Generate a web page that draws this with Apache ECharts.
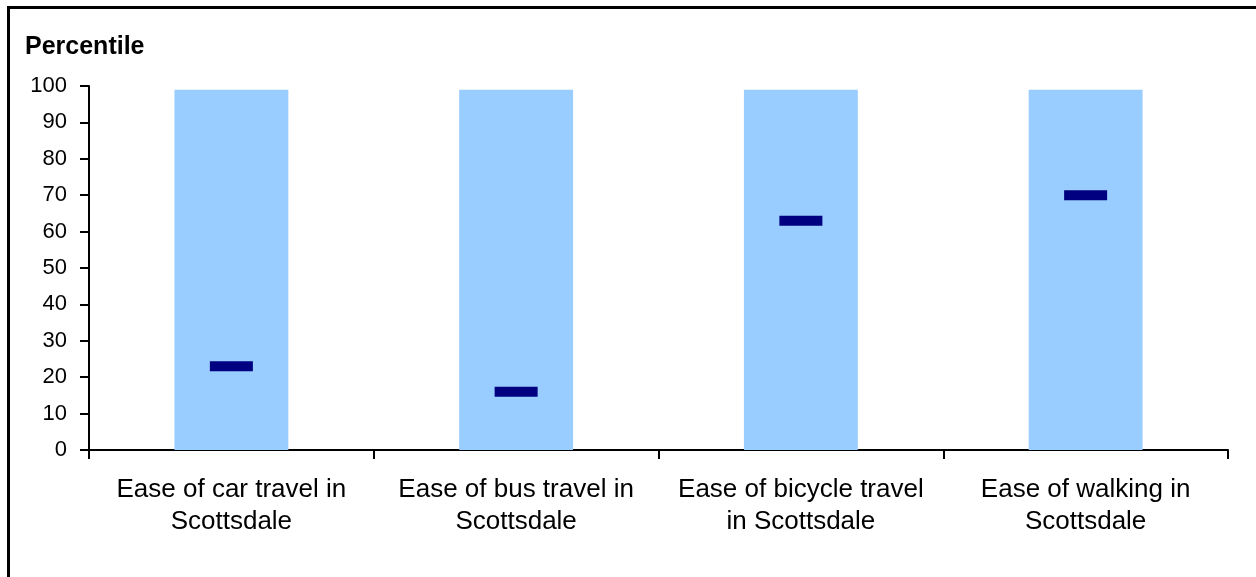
<!DOCTYPE html>
<html>
<head>
<meta charset="utf-8">
<script src="https://cdn.jsdelivr.net/npm/echarts@6/dist/echarts.min.js"></script>
<style>
  html, body { margin: 0; padding: 0; background: #fff; }
  #chart { width: 1256px; height: 577px; }
</style>
</head>
<body>
<div id="chart"></div>
<script>
// Survey items, percentile range (full band) and Scottsdale's percentile score
const categories = [
  'Ease of car travel in\nScottsdale',
  'Ease of bus travel in\nScottsdale',
  'Ease of bicycle travel\nin Scottsdale',
  'Ease of walking in\nScottsdale'
];
const rangeTop = [99, 99, 99, 99];
const percentile = [23, 16, 63, 70];
const yTicks = [0, 10, 20, 30, 40, 50, 60, 70, 80, 90, 100];

const chart = echarts.init(document.getElementById('chart'));
const font = 'Liberation Sans, Arial, sans-serif';

chart.setOption({
  animation: false,
  backgroundColor: '#fff',
  grid: { left: 89, right: 28, top: 86, bottom: 127, containLabel: false },
  graphic: [
    {
      type: 'rect',
      shape: { x: 8.5, y: 7.5, width: 1400, height: 800 },
      style: { fill: 'none', stroke: '#000', lineWidth: 3 },
      silent: true
    },
    {
      type: 'text',
      left: 25, top: 35,
      style: { text: 'Percentile', font: 'bold 25px ' + font, fill: '#000' }
    }
  ],
  xAxis: {
    type: 'category',
    data: categories,
    axisLine: { lineStyle: { color: '#000', width: 2 } },
    axisTick: { show: true, length: 9, lineStyle: { color: '#000', width: 2 } },
    axisLabel: {
      color: '#000', fontSize: 26, fontFamily: font, margin: 24,
      lineHeight: 32, interval: 0
    },
    splitLine: { show: false }
  },
  yAxis: {
    type: 'value',
    min: 0, max: 100, interval: 10,
    axisLine: { show: true, lineStyle: { color: '#000', width: 2 } },
    axisTick: { show: true, length: 9, lineStyle: { color: '#000', width: 2 } },
    axisLabel: {
      color: '#000', fontSize: 22, fontFamily: font, margin: 22,
      formatter: v => (yTicks.includes(v) ? String(v) : '')
    },
    splitLine: { show: false }
  },
  series: [
    {
      type: 'bar',
      data: rangeTop,
      barWidth: '40%',
      itemStyle: { color: '#99CCFF' },
      z: 1
    },
    {
      type: 'scatter',
      data: percentile,
      symbol: 'rect',
      symbolSize: [43, 10],
      itemStyle: { color: '#000080', opacity: 1 },
      z: 3
    }
  ]
});
</script>
</body>
</html>
